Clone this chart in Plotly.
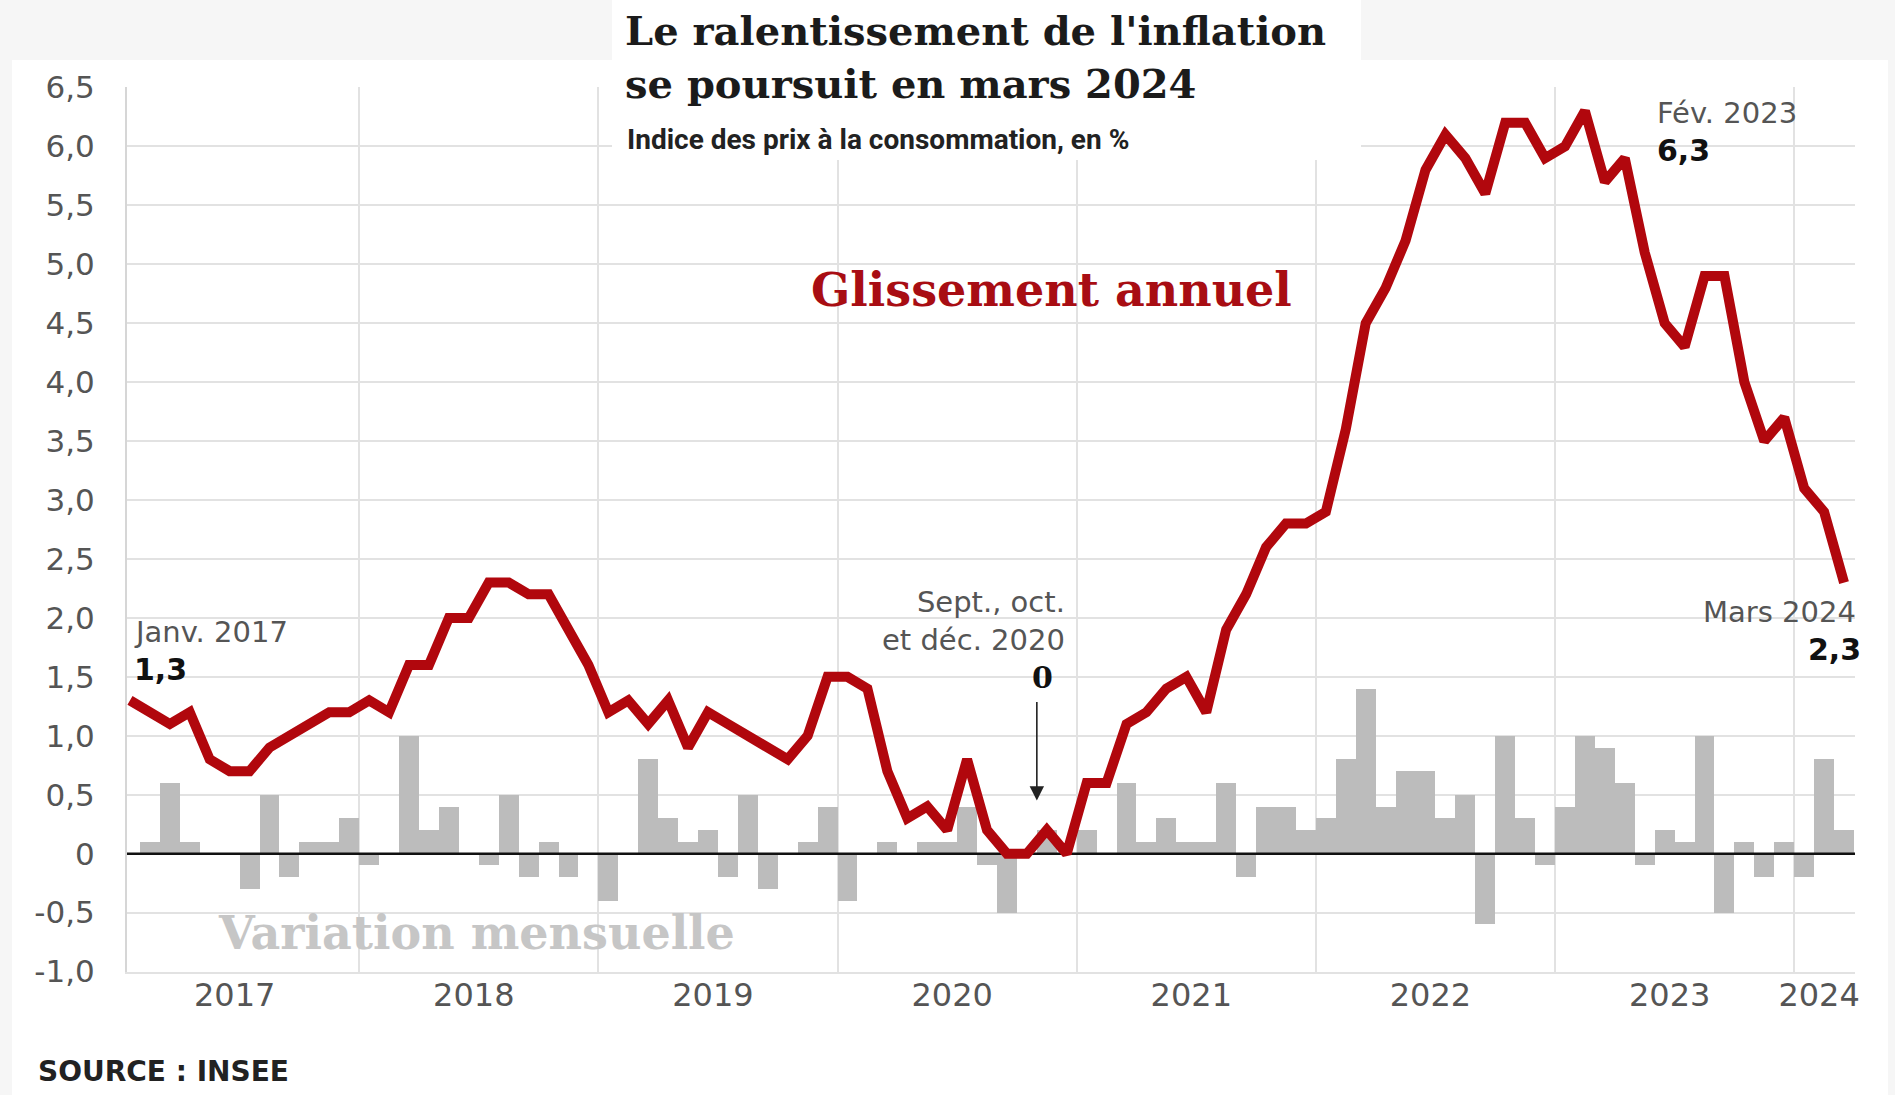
import plotly.graph_objects as go

# ---- data -----------------------------------------------------------------
year_labels = ["2017", "2018", "2019", "2020", "2021", "2022", "2023", "2024"]
months_in_year = [12, 12, 12, 12, 12, 12, 12, 3]

# Consumer price index, year-on-year change (%), Jan 2017 -> Mar 2024
annual_change = [
    1.3, 1.2, 1.1, 1.2, 0.8, 0.7, 0.7, 0.9, 1.0, 1.1, 1.2, 1.2,   # 2017
    1.3, 1.2, 1.6, 1.6, 2.0, 2.0, 2.3, 2.3, 2.2, 2.2, 1.9, 1.6,   # 2018
    1.2, 1.3, 1.1, 1.3, 0.9, 1.2, 1.1, 1.0, 0.9, 0.8, 1.0, 1.5,   # 2019
    1.5, 1.4, 0.7, 0.3, 0.4, 0.2, 0.8, 0.2, 0.0, 0.0, 0.2, 0.0,   # 2020
    0.6, 0.6, 1.1, 1.2, 1.4, 1.5, 1.2, 1.9, 2.2, 2.6, 2.8, 2.8,   # 2021
    2.9, 3.6, 4.5, 4.8, 5.2, 5.8, 6.1, 5.9, 5.6, 6.2, 6.2, 5.9,   # 2022
    6.0, 6.3, 5.7, 5.9, 5.1, 4.5, 4.3, 4.9, 4.9, 4.0, 3.5, 3.7,   # 2023
    3.1, 2.9, 2.3,                                                # 2024
]

# Month-on-month change (%)
monthly_change = [
    None, 0.1, 0.6, 0.1, 0.0, 0.0, -0.3, 0.5, -0.2, 0.1, 0.1, 0.3,   # 2017
    -0.1, 0.0, 1.0, 0.2, 0.4, 0.0, -0.1, 0.5, -0.2, 0.1, -0.2, 0.0,  # 2018
    -0.4, 0.0, 0.8, 0.3, 0.1, 0.2, -0.2, 0.5, -0.3, 0.0, 0.1, 0.4,   # 2019
    -0.4, 0.0, 0.1, 0.0, 0.1, 0.1, 0.4, -0.1, -0.5, 0.0, 0.2, 0.0,   # 2020
    0.2, 0.0, 0.6, 0.1, 0.3, 0.1, 0.1, 0.6, -0.2, 0.4, 0.4, 0.2,     # 2021
    0.3, 0.8, 1.4, 0.4, 0.7, 0.7, 0.3, 0.5, -0.6, 1.0, 0.3, -0.1,    # 2022
    0.4, 1.0, 0.9, 0.6, -0.1, 0.2, 0.1, 1.0, -0.5, 0.1, -0.2, 0.1,   # 2023
    -0.2, 0.8, 0.2,                                                  # 2024
]

y_tick_values = [-1.0, -0.5, 0.0, 0.5, 1.0, 1.5, 2.0, 2.5, 3.0, 3.5, 4.0, 4.5, 5.0, 5.5, 6.0, 6.5]
y_tick_text = ["-1,0", "-0,5", "0", "0,5", "1,0", "1,5", "2,0", "2,5", "3,0", "3,5",
               "4,0", "4,5", "5,0", "5,5", "6,0", "6,5"]

# ---- geometry ---------------------------------------------------------------
W, H = 1895, 1095
M_L, M_R, M_T, M_B = 127, 40, 87, 123
PLOT_W = W - M_L - M_R
PLOT_H = H - M_T - M_B
X_RANGE = [-0.15, 86.55]
Y_RANGE = [-1.0, 6.5]


def px(x_pixel):
    """Horizontal pixel position -> paper coordinate."""
    return (x_pixel - M_L) / PLOT_W


def py(y_pixel):
    """Vertical pixel position (from top) -> paper coordinate."""
    return (H - M_B - y_pixel) / PLOT_H


month_index = list(range(len(annual_change)))

# year boundaries and year label positions (month index units)
year_starts = []
pos = 0
for n in months_in_year:
    year_starts.append(pos)
    pos += n
year_bounds = [s - 0.5 for s in year_starts[1:]]
year_label_pos = [s + (n - 1) / 2 - 0.25 for s, n in zip(year_starts, months_in_year)]

RED = "#b1070d"
BAR_GREY = "#bcbcbc"
GRID = "#e2e2e2"
LABEL_GREY = "#555555"

SANS = "DejaVu Sans"
SERIF = "DejaVu Serif"

fig = go.Figure()

fig.add_trace(go.Bar(
    x=month_index, y=monthly_change, width=1.0,
    marker=dict(color=BAR_GREY, line=dict(width=0)),
    hoverinfo="skip", showlegend=False,
))

# zero reference line, kept between the bars and the annual curve
fig.add_trace(go.Scatter(
    x=X_RANGE, y=[0, 0], mode="lines",
    line=dict(color="#111111", width=2.5),
    hoverinfo="skip", showlegend=False,
))

fig.add_trace(go.Scatter(
    x=month_index, y=annual_change, mode="lines",
    line=dict(color=RED, width=10),
    hoverinfo="skip", showlegend=False,
))


def text_ann(text, x_pix, y_pix, size, color, family, bold=False, xanchor="left", align="left"):
    return dict(
        text=text, x=px(x_pix), y=py(y_pix), xref="paper", yref="paper",
        xanchor=xanchor, yanchor="middle", showarrow=False, align=align,
        borderpad=0,
        font=dict(family=family, size=size, color=color,
                  weight="bold" if bold else "normal"),
    )


annotations = [
    text_ann("Le ralentissement de l'inflation", 624, 31, 40, "#1b1b1b", SERIF, True),
    text_ann("se poursuit en mars 2024", 624, 83, 40, "#1b1b1b", SERIF, True),
    text_ann("Indice des prix à la consommation, en %", 626, 139, 28, "#222222", "Roboto", True),
    text_ann("Glissement annuel", 1051, 290, 46, "#a80d13", SERIF, True, "center"),
    text_ann("Variation mensuelle", 476, 933, 46, "#c6c6c6", SERIF, True, "center"),
    text_ann("Janv. 2017", 133, 632, 29, LABEL_GREY, SANS),
    text_ann("1,3", 133, 669, 30, "#111111", SANS, True),
    text_ann("Sept., oct.<br>et déc. 2020", 1066, 621, 29, LABEL_GREY, SANS, False, "right", "right"),
    text_ann("0", 1042, 677, 30, "#111111", SERIF, True, "center"),
    text_ann("Fév. 2023", 1656, 113, 29, LABEL_GREY, SANS),
    text_ann("6,3", 1656, 150, 30, "#111111", SANS, True),
    text_ann("Mars 2024", 1857, 612, 29, LABEL_GREY, SANS, False, "right"),
    text_ann("2,3", 1862, 649, 30, "#111111", SANS, True, "right"),
    text_ann("SOURCE : INSEE", 37, 1071, 28, "#222222", SANS, True),
    # arrow pointing at the zero readings of late 2020
    dict(x=45.5, y=0.45, ax=45.5, ay=1.3, xref="x", yref="y", axref="x", ayref="y",
         text="", showarrow=True, arrowhead=2, arrowsize=1.8, arrowwidth=1.6,
         arrowcolor="#222222", standoff=0, startstandoff=0),
]

shapes = [
    # white chart panel on the light page background
    dict(type="rect", xref="paper", yref="paper", x0=px(12), x1=px(1888), y0=py(H), y1=py(60),
         fillcolor="white", line=dict(width=0), layer="below"),
    # white heading block
    dict(type="rect", xref="paper", yref="paper", x0=px(612), x1=px(1361), y0=py(160), y1=py(0),
         fillcolor="white", line=dict(width=0), layer="above"),
]

fig.update_layout(
    width=W, height=H,
    margin=dict(l=M_L, r=M_R, t=M_T, b=M_B, pad=0),
    paper_bgcolor="#f6f6f6",
    plot_bgcolor="white",
    bargap=0,
    showlegend=False,
    annotations=annotations,
    shapes=shapes,
    xaxis=dict(
        range=X_RANGE, showgrid=False, zeroline=False,
        tickmode="array", tickvals=year_label_pos, ticktext=year_labels,
        ticks="", ticklabelstandoff=-6,
        tickfont=dict(family=SANS, size=32, color=LABEL_GREY),
        showline=True, linecolor=GRID, linewidth=2,
        minor=dict(tickmode="array", tickvals=year_bounds, showgrid=True,
                   gridcolor=GRID, gridwidth=2, ticks=""),
        fixedrange=True,
    ),
    yaxis=dict(
        range=[Y_RANGE[0] - 0.004, Y_RANGE[1] + 0.004],
        tickmode="array", tickvals=y_tick_values, ticktext=y_tick_text,
        ticks="", ticklabelstandoff=24,
        tickfont=dict(family=SANS, size=31, color=LABEL_GREY),
        showgrid=True, gridcolor=GRID, gridwidth=2,
        zeroline=False,
        showline=True, linecolor="#d6d6d6", linewidth=2,
        fixedrange=True,
    ),
)

fig.write_html("out.html", config={"displayModeBar": False})
